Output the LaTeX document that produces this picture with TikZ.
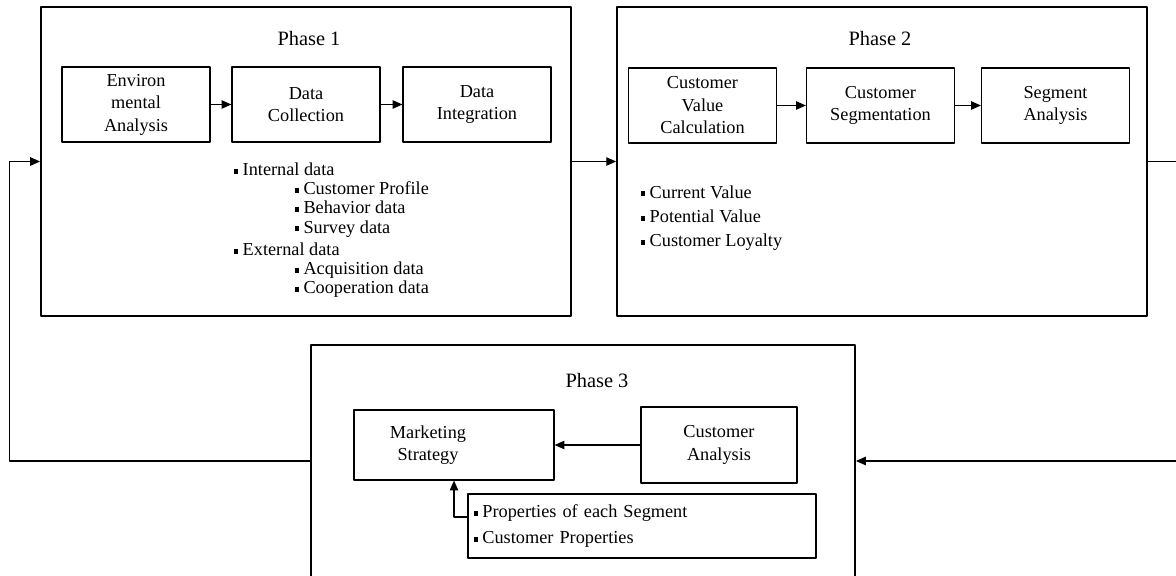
\documentclass[tikz,border=0pt]{standalone}
\usepackage{fontspec}
\setmainfont{Liberation Serif}
\usetikzlibrary{arrows.meta}
\newcommand{\blt}{\rule[.1em]{.2em}{.28em}\hspace{.26em}}
\begin{document}
\begin{tikzpicture}[x=0.025cm,y=-0.025cm,>={Triangle[length=7pt,width=6pt]},
  font=\fontsize{13}{16}\selectfont, line join=round,
  phase/.style={draw,line width=1.2pt,inner sep=0pt},
  box/.style={draw,line width=.8pt,align=center,inner sep=0pt,minimum width=3.7cm,minimum height=1.875cm},
  lst/.style={align=left,inner sep=0pt,anchor=base west},
  title/.style={font=\fontsize{14.5}{17}\selectfont},
  arr/.style={->,line width=.8pt}]
\useasboundingbox (0,0) rectangle (1176,576);
\node[phase,minimum width=13.25cm,minimum height=7.725cm] (P1) at (306,161.5) {};
\node[phase,minimum width=13.25cm,minimum height=7.725cm] (P2) at (882,161.5) {};
\node[phase,minimum width=13.6cm,minimum height=6.5cm] (P3) at (583,475) {};
\node[title] (T1) at (309,38.5) {Phase 1};
\node[title] (T2) at (880,38.5) {Phase 2};
\node[title] (T3) at (597,381) {Phase 3};
\node[box] (env) at (136,104.5) {Environ\\mental\\Analysis};
\node[box] (coll) at (306,104.5) {Data\\Collection};
\node[box] (integ) at (477,104.5) {Data\\Integration};
\draw[arr] (env) -- (coll);
\draw[arr] (coll) -- (integ);
\node[lst,font=\fontsize{13}{13.6}\selectfont] (data) at (234,294)
  {\blt Internal data\\
   \hspace*{1.52cm}\blt Customer Profile\\
   \hspace*{1.52cm}\blt Behavior data\\
   \hspace*{1.52cm}\blt Survey data\\[2.5pt]
   \blt External data\\
   \hspace*{1.52cm}\blt Acquisition data\\
   \hspace*{1.52cm}\blt Cooperation data};
\node[box] (cval) at (702.5,105.5) {Customer\\Value\\Calculation};
\node[box] (seg) at (880.5,105.5) {Customer\\Segmentation};
\node[box] (sana) at (1055.5,105.5) {Segment\\Analysis};
\draw[arr] (cval) -- (seg);
\draw[arr] (seg) -- (sana);
\node[lst,font=\fontsize{13}{17.4}\selectfont] (val) at (641,247)
  {\blt Current Value\\\blt Potential Value\\\blt Customer Loyalty};
\node[box,minimum width=5cm,minimum height=1.75cm] (strat) at (454,445)
  {Marketing\hspace*{1.3cm}\\Strategy\hspace*{1.3cm}};
\node[box,minimum width=3.9cm,minimum height=1.9cm] (cust) at (719,445) {Customer\\Analysis};
\node[box,align=left,text width=8.4cm,minimum width=8.7cm,minimum height=1.6cm,
  font=\fontsize{13}{18.5}\selectfont] (props) at (642,526)
  {\blt Properties of each Segment\\\blt Customer Properties};
\draw[arr] (cust) -- (strat);
\draw[arr] ([yshift=.225cm]props.west) -| (strat.south);
\draw[arr] (P1) -- (P2);
\draw[arr] (P2.east) -- ++(40,0) |- ([yshift=.35cm]P3.east);
\draw[arr] ([yshift=.35cm]P3.west) -- ++(-301,0) |- (P1.west);
\end{tikzpicture}
\end{document}
